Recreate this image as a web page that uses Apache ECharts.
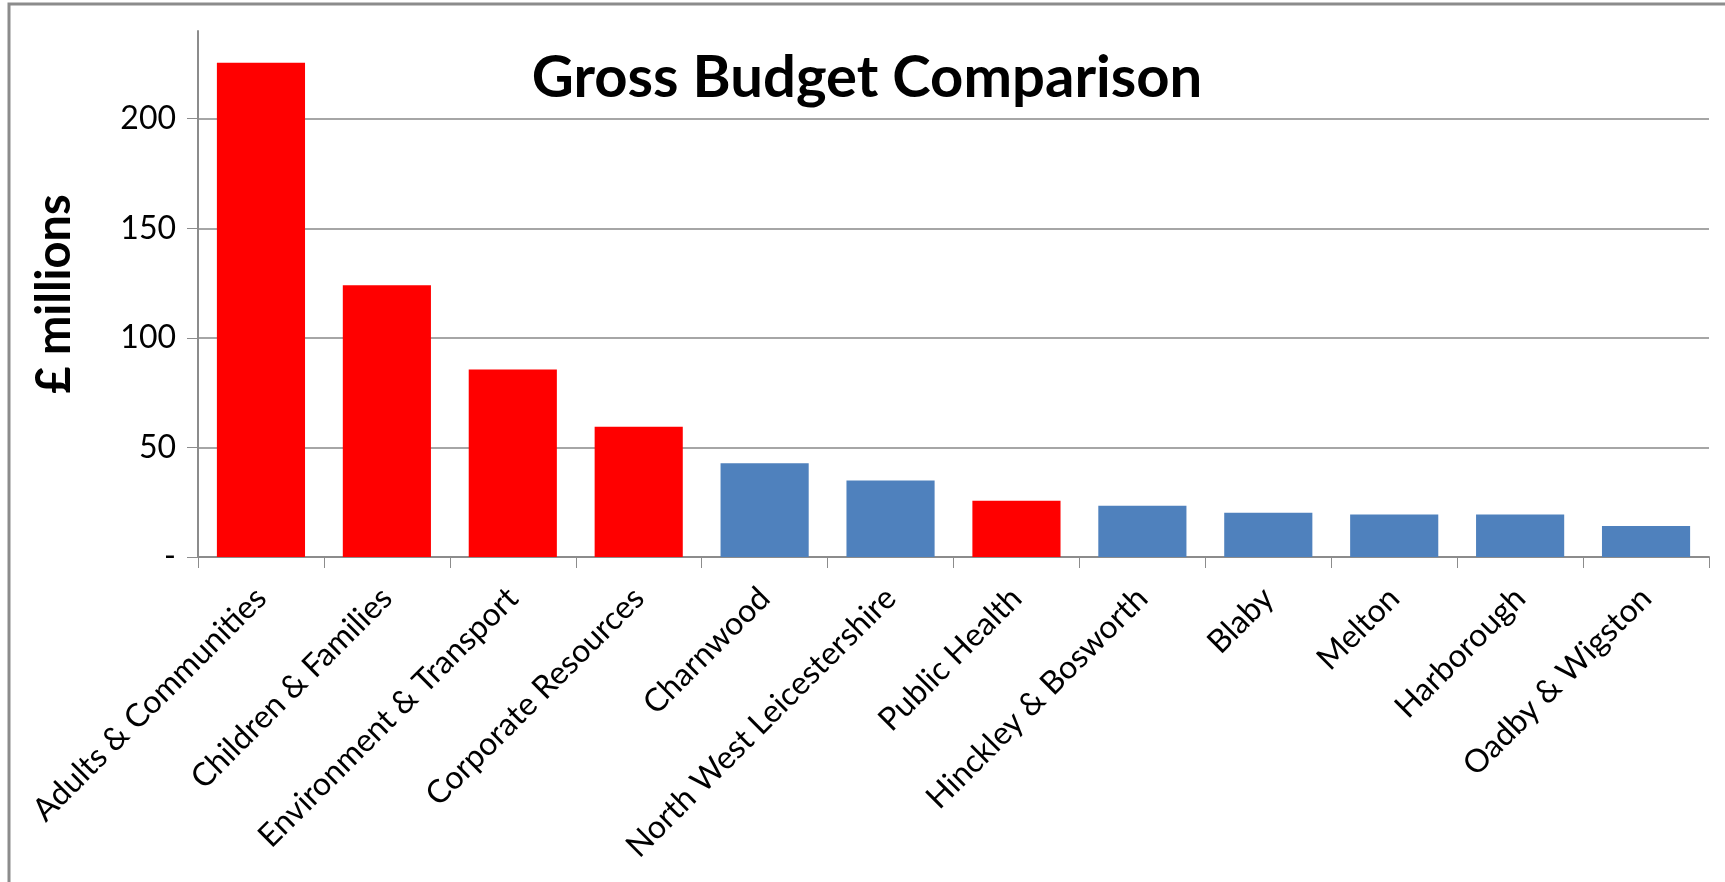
<!DOCTYPE html>
<html>
<head>
<meta charset="utf-8">
<title>Gross Budget Comparison</title>
<script src="https://cdn.jsdelivr.net/npm/echarts@6/dist/echarts.min.js"></script>
<style>
  html, body { margin: 0; padding: 0; background: #fff; }
  #chart { width: 1725px; height: 882px; }
</style>
</head>
<body>
<div id="chart"></div>
<script>
// budget lines, £ millions
const categories = [
  "Adults & Communities", "Children & Families", "Environment & Transport",
  "Corporate Resources", "Charnwood", "North West Leicestershire",
  "Public Health", "Hinckley & Bosworth", "Blaby", "Melton",
  "Harborough", "Oadby & Wigston"
];
const budgets = [225.5, 124, 85.6, 59.4, 42.8, 34.9, 25.7, 23.4, 20.2, 19.4, 19.4, 14.2];
// county council departments vs district councils
const groups = ["county", "county", "county", "county", "district", "district",
  "county", "district", "district", "district", "district", "district"];
const yTicks = [0, 50, 100, 150, 200];

const groupColor = { county: "#FF0000", district: "#4F81BD" };
const font = "Lato, 'Open Sans', sans-serif";

let myChart = echarts.init(document.getElementById("chart"));
myChart.setOption({
  animation: false,
  title: {
    text: "Gross Budget Comparison",
    left: 862,
    top: 44,
    textAlign: "center",
    textStyle: { fontFamily: font, fontSize: 58, fontWeight: "bold", color: "#000" }
  },
  graphic: [{
    type: "rect",
    shape: { x: 9, y: 4, width: 2000, height: 2000 },
    style: { fill: "none", stroke: "#8c8c8c", lineWidth: 3 },
    silent: true
  }],
  grid: { left: 198, right: 16, top: 31, bottom: 325 },
  xAxis: {
    type: "category",
    data: categories,
    axisLine: { lineStyle: { color: "#8c8c8c", width: 2 } },
    axisTick: { show: true, length: 11, alignWithLabel: false, lineStyle: { color: "#8c8c8c" } },
    axisLabel: {
      interval: 0,
      rotate: 45,
      margin: 36,
      fontFamily: font,
      fontSize: 32,
      color: "#000"
    }
  },
  yAxis: {
    type: "value",
    min: 0,
    max: 240,
    interval: 50,
    name: "£ millions",
    nameLocation: "middle",
    nameGap: 120,
    nameTextStyle: { fontFamily: font, fontSize: 47, fontWeight: "bold", color: "#000" },
    axisLine: { show: true, lineStyle: { color: "#8c8c8c", width: 2 } },
    axisTick: { show: true, length: 11, lineStyle: { color: "#8c8c8c" } },
    axisLabel: {
      showMaxLabel: false,
      margin: 22,
      fontFamily: font,
      fontSize: 32,
      color: "#000",
      formatter: function (v) {
        if (yTicks.indexOf(v) < 0) return "";
        return v === 0 ? "-" : String(v);
      }
    },
    splitLine: { showMaxLine: false, lineStyle: { color: "#a6a6a6", width: 2 } }
  },
  series: [{
    type: "bar",
    barCategoryGap: "30%",
    data: budgets.map(function (v, i) {
      return { value: v, itemStyle: { color: groupColor[groups[i]] } };
    })
  }]
});
</script>
</body>
</html>
